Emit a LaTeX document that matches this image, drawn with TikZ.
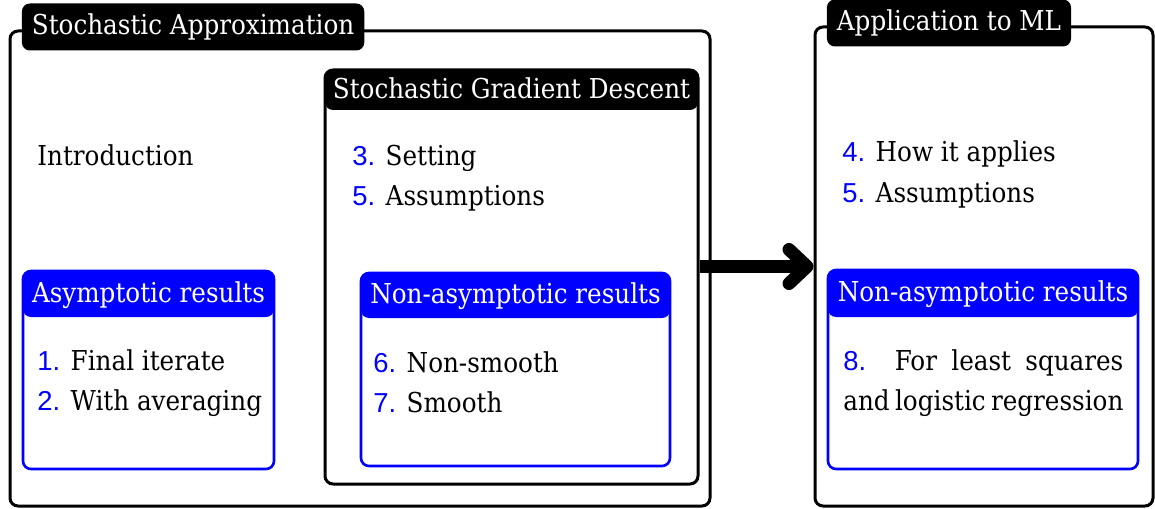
\documentclass[tikz,border=0pt]{standalone}
\usepackage{fontspec}
\setmainfont{DejaVu Serif Condensed}
\setsansfont{Liberation Sans}
\usetikzlibrary{arrows.meta, positioning, fit}

\newcommand{\num}[1]{\textcolor{blue}{\sffamily #1}}

\begin{document}
\begin{tikzpicture}[x=0.5pt, y=-0.5pt,
  font=\fontsize{13.7}{20}\selectfont,
  frame/.style={
    draw,
    line width=1.5pt,
    rounded corners=4pt,
    inner sep=0pt
  },
  bluebox/.style={frame, draw=blue, line width=1.3pt},
  title/.style={
    fill=black,
    rounded corners=4pt,
    inner sep=0pt
  },
  bluetitle/.style={title, fill=blue},
  titletext/.style={text=white, text height=11pt, text depth=3pt, inner sep=0pt},
  headline/.style={title, titletext, inner xsep=5pt, minimum height=23.5pt},
  item/.style={anchor=base west, inner sep=0pt},
  line/.style={-{Straight Barb[round, length=9pt, width=17pt]}, line width=6.5pt}
  ]
\useasboundingbox (0,0) rectangle (1155,508);

% Frames
\node[frame, fit={(10,31) (710,506)}] (sa) {};
\node[frame, fit={(325,70) (698,484)}] (sgd) {};
\node[bluebox, fit={(23,271) (274,469)}] (asym) {};
\node[bluebox, fit={(361,273) (670,466)}] (nonasym) {};
\node[frame, fit={(815,27) (1153,506)}] (ml) {};
\node[bluebox, fit={(828,270) (1138,469)}] (mlres) {};

% Titles
\node[headline, anchor=west] (saT) at ([xshift=6.5pt, yshift=1.25pt]sa.north west) {Stochastic Approximation};
\node[title, fit={(325,70) (698,110)}, label={[titletext]center:Stochastic Gradient Descent}] (sgdT) {};
\node[bluetitle, fit={(23,271) (274,317)}, label={[titletext]center:Asymptotic results}] (asymT) {};
\node[bluetitle, fit={(361,273) (670,318)}, label={[titletext]center:Non-asymptotic results}] (nonasymT) {};
\node[headline, anchor=west] (mlT) at ([xshift=6.5pt, yshift=1.25pt]ml.north west) {Application to ML};
\node[bluetitle, fit={(828,270) (1138,317)}, label={[titletext]center:Non-asymptotic results}] (mlresT) {};

% Contents
\node[item] (intro) at (37,165) {Introduction};
\node[item] (setting) at (352,165) {\num{3.} Setting};
\node[item] (assum) at ([yshift=-20pt]setting.base west) {\num{5.} Assumptions};
\node[item] (final) at (37,370) {\num{1.} Final iterate};
\node[item] (avg) at ([yshift=-20pt]final.base west) {\num{2.} With averaging};
\node[item] (nonsmooth) at (373,372) {\num{6.} Non-smooth};
\node[item] (smooth) at ([yshift=-20pt]nonsmooth.base west) {\num{7.} Smooth};
\node[item] (applies) at (842,162) {\num{4.} How it applies};
\node[item] (mlassum) at ([yshift=-20pt]applies.base west) {\num{5.} Assumptions};
\node[item] (lsq) at (843,370) {\makebox[140pt][s]{\num{8.}\ \ For least squares}};
\node[item] (logreg) at ([yshift=-20pt]lsq.base west) {\makebox[140pt][s]{and logistic regression}};

% Arrow
\draw[line] (sgd.east |- ml.west) -- (ml.west);

\end{tikzpicture}
\end{document}
